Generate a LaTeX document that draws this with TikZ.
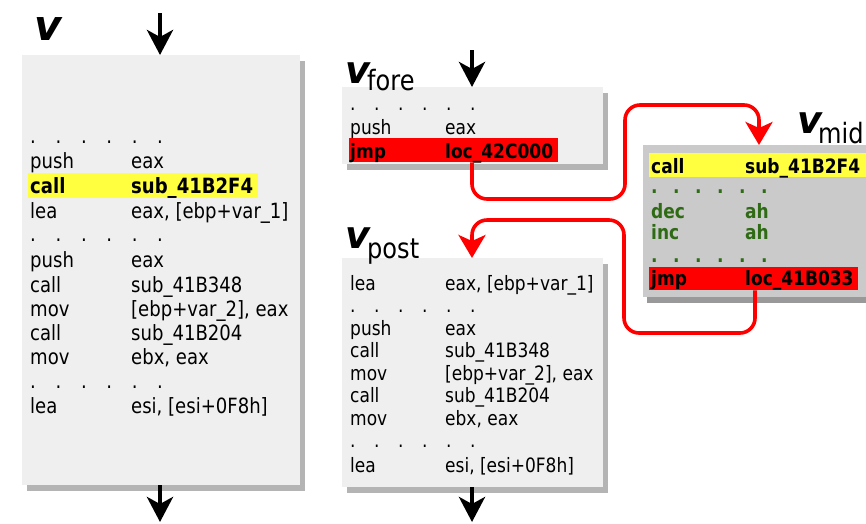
\documentclass[tikz,border=0pt]{standalone}
\usepackage{fontspec}
\newfontfamily\asmfont[FakeStretch=0.86]{DejaVu Sans}
\newfontfamily\lblfont{DejaVu Sans}
\usetikzlibrary{arrows.meta,shadows}
\definecolor{boxfill}{HTML}{EFEFEF}
\definecolor{midfill}{HTML}{CACACA}
\definecolor{shadowc}{HTML}{B4B4B4}
\definecolor{hlyellow}{HTML}{FFFF40}
\definecolor{hlred}{HTML}{FF0000}
\definecolor{asmgreen}{HTML}{2E6B14}
\newcommand\asmdots[1]{\makebox[#1][l]{.}\makebox[#1][l]{.}\makebox[#1][l]{.}\makebox[#1][l]{.}\makebox[#1][l]{.}.}
\newcommand\asmcol[3]{\makebox[#1][l]{#2}#3}
\tikzset{
  blk/.style={fill=boxfill, draw=none, inner sep=0pt, anchor=north west,
    drop shadow={shadow xshift=5pt,shadow yshift=-6pt,fill=shadowc,opacity=1}},
  ln/.style={anchor=base west, inner sep=0pt, font=\asmfont\fontsize{21}{22}\selectfont},
  lnb/.style={ln, font=\asmfont\bfseries\fontsize{21}{22}\selectfont},
  lns/.style={ln, font=\asmfont\fontsize{19.8}{21}\selectfont},
  lnsb/.style={ln, font=\asmfont\bfseries\fontsize{19.8}{21}\selectfont},
  dotrow/.style={text height=3pt, text depth=0pt},
  hl/.style={anchor=north west, inner sep=0pt, draw=none},
  flow/.style={-{Stealth[length=25pt,width=26pt,inset=7pt]}, line width=4.6pt, black},
  jump/.style={-{Stealth[length=23pt,width=27pt,inset=6pt]}, line width=3.6pt, hlred, rounded corners=15pt},
  lbl/.style={anchor=base west, inner sep=0pt, font=\lblfont\bfseries\itshape\fontsize{38}{40}\selectfont},
  lblsub/.style={anchor=base west, inner sep=0pt, text depth=0pt, font=\asmfont\fontsize{28}{30}\selectfont},
}
\begin{document}
\begin{tikzpicture}[x=1pt,y=-1pt]
\useasboundingbox (0,0) rectangle (866,523);

% ---------- block v ----------
\node[blk, minimum width=278pt, minimum height=430pt] (V) at (22,55) {};
\node[lbl, font=\lblfont\bfseries\itshape\fontsize{42}{44}\selectfont] (Vlbl) at (34,40) {v};
\node[hl, fill=hlyellow, minimum width=230pt, minimum height=25pt] (Vcall) at (28,173) {};
\node[ln, dotrow] (V1) at (30,143) {\asmdots{25.4pt}};
\node[ln] (V2) at (30,168) {\asmcol{101pt}{push}{eax}};
\node[lnb] (V3) at (30,193) {\asmcol{101pt}{call}{sub\_41B2F4}};
\node[ln] (V4) at (30,218) {\asmcol{101pt}{lea}{eax, [ebp+var\_1]}};
\node[ln, dotrow] (V5) at (30,241) {\asmdots{25.4pt}};
\node[ln] (V6) at (30,267) {\asmcol{101pt}{push}{eax}};
\node[ln] (V7) at (30,292) {\asmcol{101pt}{call}{sub\_41B348}};
\node[ln] (V8) at (30,316) {\asmcol{101pt}{mov}{[ebp+var\_2], eax}};
\node[ln] (V9) at (30,340) {\asmcol{101pt}{call}{sub\_41B204}};
\node[ln] (V10) at (30,364) {\asmcol{101pt}{mov}{ebx, eax}};
\node[ln, dotrow] (V11) at (30,388) {\asmdots{25.4pt}};
\node[ln] (V12) at (30,413) {\asmcol{101pt}{lea}{esi, [esi+0F8h]}};
\coordinate (Vin) at (160,13);
\coordinate (Vout) at (160,522);
\draw[flow] (Vin) -- (Vin |- V.north);
\draw[flow] (Vin |- V.south) -- (Vout);

% ---------- block v_fore ----------
\node[blk, minimum width=261pt, minimum height=77pt] (F) at (342,87) {};
\node[lbl] (Flbl) at (345,83) {v};
\node[lblsub] (Fsub) at (367,90) {fore};
\node[hl, fill=hlred, minimum width=209pt, minimum height=24pt] (Fjmp) at (349,138) {};
\node[lns, dotrow] (F1) at (350,110) {\asmdots{24pt}};
\node[lns] (F2) at (350,134) {\asmcol{95pt}{push}{eax}};
\node[lnsb] (F3) at (350,158) {\asmcol{95pt}{jmp}{loc\_42C000}};
\coordinate (Fin) at (472,50);
\draw[flow] (Fin) -- (Fin |- F.north);

% ---------- block v_mid ----------
\node[blk, fill=midfill, minimum width=223pt, minimum height=152pt,
  drop shadow={shadow xshift=4pt,shadow yshift=-6pt,fill=shadowc!85!black,opacity=1}] (M) at (643,145) {};
\node[lbl] (Mlbl) at (797,133) {v};
\node[lblsub] (Msub) at (818,143) {mid};
\node[hl, fill=hlyellow, minimum width=217pt, minimum height=24pt] (Mcall) at (649,153) {};
\node[hl, fill=hlred, minimum width=209pt, minimum height=23pt] (Mjmp) at (649,267) {};
\node[lnsb] (M1) at (651,173) {\asmcol{94pt}{call}{sub\_41B2F4}};
\node[lnsb, dotrow, text=asmgreen] (M2) at (651,193) {\asmdots{22pt}};
\node[lnsb, text=asmgreen] (M3) at (651,218) {\asmcol{94pt}{dec}{ah}};
\node[lnsb, text=asmgreen] (M4) at (651,239) {\asmcol{94pt}{inc}{ah}};
\node[lnsb, dotrow, text=asmgreen] (M5) at (651,262) {\asmdots{22pt}};
\node[lnsb] (M6) at (651,285) {\asmcol{94pt}{jmp}{loc\_41B033}};

% ---------- block v_post ----------
\node[blk, minimum width=261pt, minimum height=229pt] (P) at (342,258) {};
\node[lbl] (Plbl) at (345,248) {v};
\node[lblsub] (Psub) at (367,258) {post};
\node[lns] (P1) at (350,290) {\asmcol{95pt}{lea}{eax, [ebp+var\_1]}};
\node[lns, dotrow] (P2) at (350,312) {\asmdots{24pt}};
\node[lns] (P3) at (350,335) {\asmcol{95pt}{push}{eax}};
\node[lns] (P4) at (350,357) {\asmcol{95pt}{call}{sub\_41B348}};
\node[lns] (P5) at (350,380) {\asmcol{95pt}{mov}{[ebp+var\_2], eax}};
\node[lns] (P6) at (350,402) {\asmcol{95pt}{call}{sub\_41B204}};
\node[lns] (P7) at (350,425) {\asmcol{95pt}{mov}{ebx, eax}};
\node[lns, dotrow] (P8) at (350,447) {\asmdots{24pt}};
\node[lns] (P9) at (350,472) {\asmcol{95pt}{lea}{esi, [esi+0F8h]}};
\coordinate (Pout) at (472,522);
\draw[flow] (Pout |- P.south) -- (Pout);

% ---------- red jumps ----------
\coordinate (j1a) at (472,199);
\coordinate (j1b) at (625,199);
\coordinate (j1c) at (625,105);
\coordinate (j1d) at (759,105);
\draw[jump] (Fjmp.south -| j1a) -- (j1a) -- (j1b) -- (j1c) -- (j1d) -- (M.north -| j1d);
\coordinate (j2a) at (755,333);
\coordinate (j2b) at (624,333);
\coordinate (j2c) at (624,220);
\coordinate (j2d) at (472,220);
\draw[jump] (Mjmp.south -| j2a) -- (j2a) -- (j2b) -- (j2c) -- (j2d) -- (P.north -| j2d);
\end{tikzpicture}
\end{document}
